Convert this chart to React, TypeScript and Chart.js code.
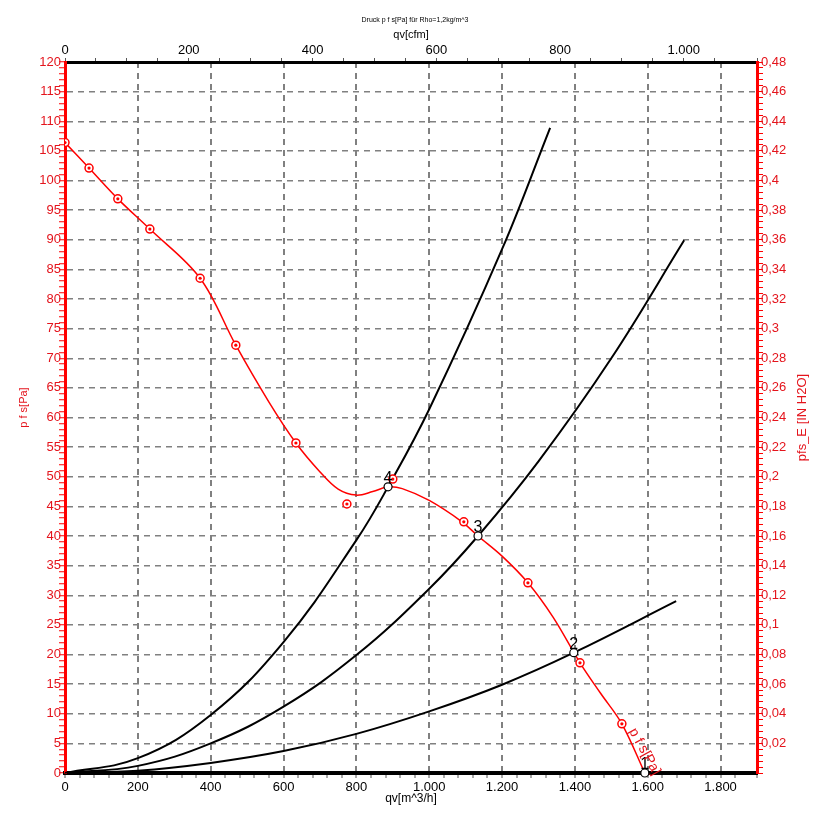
import { useEffect, useRef } from 'react';
import { Chart, registerables } from 'chart.js';
Chart.register(...registerables);

// ---- data ----
// fan curve p f s [Pa] over q v [m^3/h]
const fanQ = [0, 66, 145, 233, 371, 469, 560, 634, 699, 750, 800, 845, 887, 926, 1000, 1090, 1134, 1200, 1271, 1340, 1414, 1470, 1529, 1592];
const fanP = [106.4, 102.1, 96.9, 91.8, 83.5, 72.2, 62.6, 55.7, 50.9, 47.9, 46.9, 47.5, 48.3, 48.0, 46.0, 42.4, 40.0, 36.6, 32.1, 26.3, 18.6, 13.5, 8.3, 0];
// measured points
const measQ = [0, 66, 145, 233, 371, 469, 634, 774, 900, 1095, 1271, 1414, 1529];
const measP = [106.4, 102.1, 96.9, 91.8, 83.5, 72.2, 55.7, 45.4, 49.6, 42.4, 32.1, 18.6, 8.3];
// system curves
const sysAQ = [0, 200, 400, 600, 800, 887, 1000, 1200, 1332];
const sysAP = [0, 2.5, 9.8, 22.1, 39.3, 48.3, 61.4, 88.4, 108.9];
const sysBQ = [0, 200, 400, 600, 800, 1000, 1134, 1300, 1500, 1700];
const sysBP = [0, 1.2, 5.0, 11.2, 19.9, 31.1, 40.0, 52.6, 70.0, 89.9];
const sysCQ = [0, 200, 400, 600, 800, 1000, 1200, 1397, 1678];
const sysCP = [0, 0.4, 1.7, 3.7, 6.6, 10.4, 14.9, 20.3, 29.0];
// operating points
const opQ = [1592, 1397, 1134, 887];
const opP = [0, 20.3, 40.0, 48.3];
const opLabels = ['1', '2', '3', '4'];
// axes
const xMaxM3h = 1900;
const cfmFactor = 1.69901;
const yMaxPa = 120;
const yMaxInH2O = 0.48;
const curveLabel = 'p f s[Pa]';
const curveLabelAt = [1557, 7.4];
const chartTitle = 'Druck p f s[Pa] für Rho=1,2kg/m^3';
const xTitle = 'qv[m^3/h]';
const x2Title = 'qv[cfm]';
const yTitle = 'p f s[Pa]';
const y2Title = 'pfs_E [IN H2O]';

const FONT = 'Arial, "Liberation Sans", sans-serif';
const RED = '#ff0000';
const RED_TXT = '#e4141c';
const GRID = '#808080';
const CLEAR = 'rgba(0,0,0,0)';

const pts = (xs: number[], ys: number[]) => xs.map((x, i) => ({ x, y: ys[i] }));
const fmtThousands = (v: number) => {
  if (v >= 1000) {
    const r = v % 1000;
    return Math.floor(v / 1000) + '.' + String(r).padStart(3, '0');
  }
  return String(v);
};

const overlay = {
  id: 'overlay',
  afterDatasetsDraw(chart: any) {
    const ctx = chart.ctx;
    const meta = chart.getDatasetMeta(0);
    ctx.save();
    ctx.font = '16px ' + FONT;
    ctx.fillStyle = '#000';
    ctx.textAlign = 'center';
    ctx.textBaseline = 'alphabetic';
    meta.data.forEach((el: any, i: number) => {
      ctx.fillText(opLabels[i], el.x, el.y - 4);
    });
    const xs = chart.scales.x;
    const ys = chart.scales.y;
    const px = xs.getPixelForValue(curveLabelAt[0]);
    const py = ys.getPixelForValue(curveLabelAt[1]);
    ctx.translate(px, py);
    ctx.rotate((61 * Math.PI) / 180);
    ctx.fillStyle = RED_TXT;
    ctx.font = '14px ' + FONT;
    ctx.textAlign = 'left';
    ctx.textBaseline = 'middle';
    ctx.fillText(curveLabel, 0, 0);
    ctx.restore();
  },
  afterDraw(chart: any) {
    const ctx = chart.ctx;
    const area = chart.chartArea;
    ctx.save();
    ctx.fillStyle = '#000';
    ctx.font = '7px ' + FONT;
    ctx.textAlign = 'center';
    ctx.textBaseline = 'middle';
    ctx.fillText(chartTitle, 415, 20);
    // left title
    ctx.fillStyle = RED_TXT;
    ctx.font = '11px ' + FONT;
    ctx.save();
    ctx.translate(24, (area.top + area.bottom) / 2 - 10);
    ctx.rotate(-Math.PI / 2);
    ctx.fillText(yTitle, 0, 0);
    ctx.restore();
    // right title (reads bottom to top)
    ctx.font = '13px ' + FONT;
    ctx.save();
    ctx.translate(802, (area.top + area.bottom) / 2);
    ctx.rotate(-Math.PI / 2);
    ctx.fillText(y2Title, 0, 0);
    ctx.restore();
    ctx.restore();
  },
};

export default function App() {
  const ref = useRef<HTMLCanvasElement>(null);
  useEffect(() => {
    Chart.defaults.font.family = FONT;
    const chart = new Chart(ref.current as HTMLCanvasElement, {
      type: 'scatter',
      data: {
        datasets: [
          {
            data: pts(opQ, opP),
            showLine: false,
            pointRadius: 4,
            pointBackgroundColor: '#fff',
            pointBorderColor: '#000',
            pointBorderWidth: 1.2,
            clip: false as any,
          },
          {
            data: pts(measQ, measP),
            showLine: false,
            pointRadius: 1.6,
            pointBackgroundColor: RED,
            pointBorderColor: RED,
            pointBorderWidth: 0,
          },
          {
            data: pts(measQ, measP),
            showLine: false,
            pointRadius: 4,
            pointBackgroundColor: '#fff',
            pointBorderColor: RED,
            pointBorderWidth: 1.5,
          },
          {
            data: pts(fanQ, fanP),
            showLine: true,
            borderColor: RED,
            borderWidth: 1.5,
            pointRadius: 0,
            tension: 0.35,
          },
          {
            data: pts(sysAQ, sysAP),
            showLine: true,
            borderColor: '#000',
            borderWidth: 2,
            pointRadius: 0,
            tension: 0.4,
          },
          {
            data: pts(sysBQ, sysBP),
            showLine: true,
            borderColor: '#000',
            borderWidth: 2,
            pointRadius: 0,
            tension: 0.4,
          },
          {
            data: pts(sysCQ, sysCP),
            showLine: true,
            borderColor: '#000',
            borderWidth: 2,
            pointRadius: 0,
            tension: 0.4,
          },
        ],
      },
      options: {
        animation: false,
        responsive: false,
        devicePixelRatio: 1,
        layout: { padding: 0 },
        plugins: { legend: { display: false }, tooltip: { enabled: false }, title: { display: false } },
        scales: {
          x: {
            type: 'linear',
            position: 'bottom',
            min: 0,
            max: xMaxM3h,
            afterFit: (s: any) => { s.height = 55; },
            ticks: {
              stepSize: 40,
              autoSkip: false,
              maxRotation: 0,
              color: '#000',
              font: { size: 13 },
              padding: 2,
              callback: (v: any) => (v % 200 === 0 && v <= 1800 ? fmtThousands(v) : ''),
            },
            grid: {
              color: (c: any) => {
                const v = c.tick ? c.tick.value : 0;
                return v % 200 === 0 && v > 0 && v < xMaxM3h ? GRID : CLEAR;
              },
              lineWidth: 2,
              tickColor: '#555',
              tickLength: 5,
              tickWidth: 1,
            },
            border: { color: '#000', width: 4, dash: [6, 5] },
            title: { display: true, text: xTitle, color: '#000', font: { size: 12 }, padding: { top: 0, bottom: 22 } },
          },
          x2: {
            type: 'linear',
            position: 'top',
            min: 0,
            max: xMaxM3h / cfmFactor,
            afterFit: (s: any) => { s.height = 62; },
            ticks: {
              stepSize: 50,
              autoSkip: false,
              maxRotation: 0,
              color: '#000',
              font: { size: 13 },
              padding: 0,
              callback: (v: any) => (v % 200 === 0 ? fmtThousands(v) : ''),
            },
            grid: { drawOnChartArea: false, tickColor: '#555', tickLength: 4, tickWidth: 1 },
            border: { color: '#000', width: 3 },
            title: { display: true, text: x2Title, color: '#000', font: { size: 11 }, padding: { top: 28, bottom: 0 } },
          },
          y: {
            type: 'linear',
            position: 'left',
            min: 0,
            max: yMaxPa,
            afterFit: (s: any) => { s.width = 65; },
            ticks: {
              stepSize: 1,
              autoSkip: false,
              color: RED_TXT,
              font: { size: 13 },
              padding: -2,
              callback: (v: any) => (v % 5 === 0 ? String(v) : ''),
            },
            grid: {
              color: (c: any) => {
                const v = c.tick ? c.tick.value : 0;
                return v % 5 === 0 && v > 0 && v < yMaxPa ? GRID : CLEAR;
              },
              lineWidth: 1.5,
              tickColor: RED,
              tickLength: 6,
              tickWidth: 1,
            },
            border: { color: RED, width: 3, dash: [6, 5] },
          },
          y2: {
            type: 'linear',
            position: 'right',
            min: 0,
            max: yMaxInH2O,
            afterFit: (s: any) => { s.width = 69; },
            ticks: {
              stepSize: 0.004,
              autoSkip: false,
              color: RED_TXT,
              font: { size: 13 },
              padding: -2,
              callback: (v: any) => {
                const r = Math.round(v * 1000);
                if (r === 0 || r % 20 !== 0) return '';
                return String(Math.round(v * 100) / 100).replace('.', ',');
              },
            },
            grid: { drawOnChartArea: false, tickColor: RED, tickLength: 6, tickWidth: 1 },
            border: { color: RED, width: 3 },
          },
        },
      } as any,
      plugins: [overlay],
    });
    return () => chart.destroy();
  }, []);
  return (
    <div style={{ position: 'absolute', left: 0, top: 0, width: 826, height: 828, background: '#fff' }}>
      <canvas ref={ref} width={826} height={828} style={{ width: 826, height: 828, display: 'block' }} />
    </div>
  );
}
